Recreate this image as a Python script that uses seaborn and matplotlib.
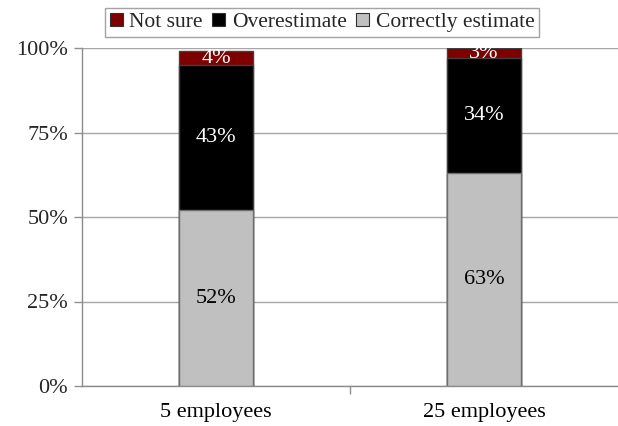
import matplotlib
matplotlib.use("Agg")
import matplotlib.pyplot as plt
import matplotlib.patches as mpatches
from matplotlib.ticker import FixedLocator
import numpy as np
import seaborn as sns

categories = ["5 employees", "25 employees"]
correctly = [52, 63]
overestimate = [43, 34]
not_sure = [4, 3]
series_names = ["Not sure", "Overestimate", "Correctly estimate"]
y_ticks = [0, 25, 50, 75, 100]

sns.set_theme(style="white")
plt.rcParams["font.family"] = ["Liberation Serif", "DejaVu Serif"]

fig = plt.figure(figsize=(6.18, 4.26), dpi=100)
ax = fig.add_axes([82 / 618, 1 - 386 / 426, 1 - 82 / 618, (386 - 48) / 426])

colors = {"Not sure": "#7f0000", "Overestimate": "#000000", "Correctly estimate": "#c0c0c0"}
edges = {"Not sure": "#404040", "Overestimate": "#404040", "Correctly estimate": "#6e6e6e"}

c1 = np.array(correctly)
c2 = c1 + np.array(overestimate)
c3 = c2 + np.array(not_sure)
layers = [("Not sure", c3), ("Overestimate", c2), ("Correctly estimate", c1)]

for name, tops in layers:
    sns.barplot(x=categories, y=tops, color=colors[name], width=0.275,
                edgecolor=edges[name], linewidth=1.0, saturation=1, ax=ax, zorder=3)

# segment labels
for i in range(len(categories)):
    segs = [(0, c1[i], correctly[i], "black"),
            (c1[i], c2[i], overestimate[i], "white"),
            (c2[i], c3[i], not_sure[i], "white")]
    for lo, hi, val, tc in segs:
        ax.text(i, (lo + hi) / 2, f"{val}%", ha="center", va="center",
                color=tc, fontsize=16, zorder=5)

ax.set_ylim(0, 100)
ax.set_xlim(-0.5, 1.5)
ax.yaxis.set_major_locator(FixedLocator(y_ticks))
ax.set_yticklabels([f"{t}%" for t in y_ticks], fontsize=16)
ax.set_xticks(range(len(categories)))
ax.set_xticklabels(categories, fontsize=16)
ax.xaxis.set_minor_locator(FixedLocator([0.5]))
ax.tick_params(axis="x", which="major", length=0, pad=12, colors="black")
ax.tick_params(axis="x", which="minor", length=6, width=1, color="#909090", direction="out", bottom=True)
ax.tick_params(axis="y", which="major", length=6, width=1, color="#909090", direction="out", left=True, pad=4)
ax.grid(axis="y", color="#a6a6a6", linewidth=1, zorder=0)
ax.set_axisbelow(True)
for s in ["top", "right"]:
    ax.spines[s].set_visible(False)
for s in ["left", "bottom"]:
    ax.spines[s].set_color("#8c8c8c")
    ax.spines[s].set_linewidth(1)
ax.set_xlabel("")
ax.set_ylabel("")

handles = [mpatches.Patch(facecolor=colors[n], edgecolor="#303030", linewidth=0.8, label=n)
           for n in series_names]
leg = fig.legend(handles=handles, loc="upper center", bbox_to_anchor=(322 / 618, 1 - 8 / 426),
                 ncol=3, fontsize=15.5, frameon=True, fancybox=False, handlelength=0.6,
                 handleheight=0.6, handletextpad=0.3, columnspacing=0.45,
                 borderpad=0.22, borderaxespad=0)
leg.get_frame().set_edgecolor("#8c8c8c")
leg.get_frame().set_linewidth(1)

fig.savefig("out.png", dpi=100)
